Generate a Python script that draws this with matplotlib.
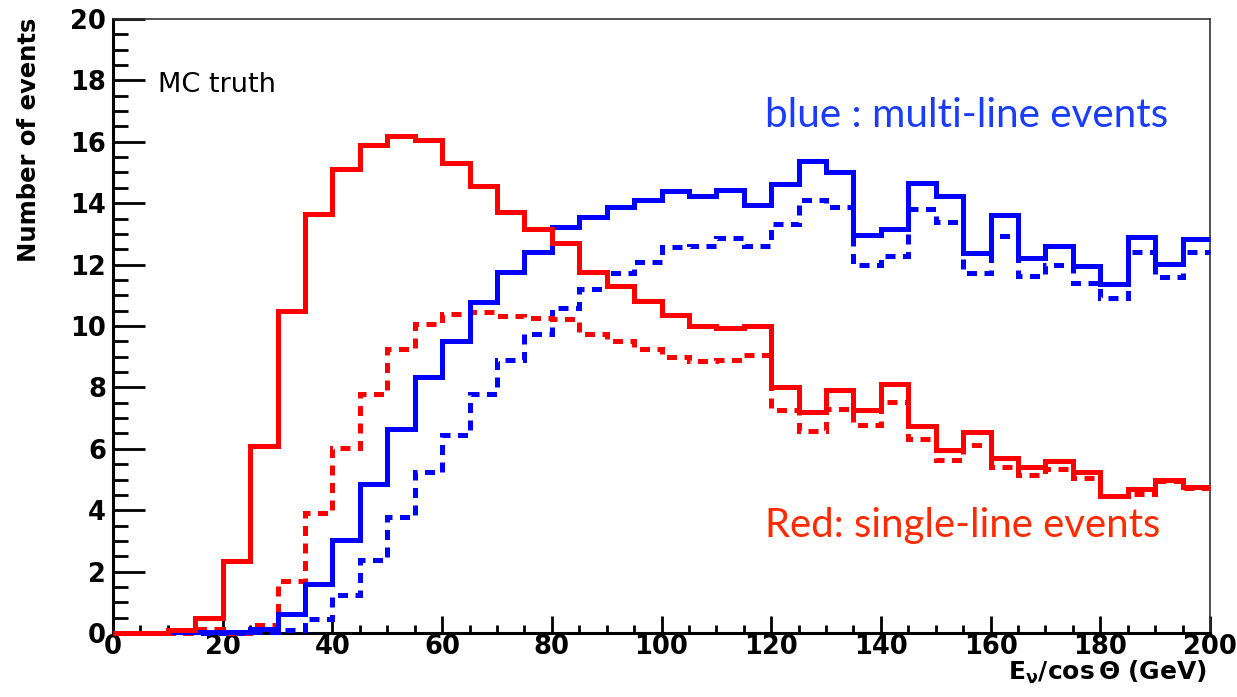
import numpy as np
import matplotlib
matplotlib.use("Agg")
from matplotlib import pyplot as plt

# bin edges: 40 bins of 5 GeV from 0 to 200
edges = np.arange(0, 205, 5)

# single-line events (red)
red_solid = [0, 0, 0.1, 0.5, 2.35, 6.1, 10.5, 13.65, 15.1, 15.9,
             16.2, 16.05, 15.3, 14.55, 13.7, 13.15, 12.7, 11.75, 11.3, 10.8,
             10.35, 10.0, 9.95, 10.0, 8.0, 7.2, 7.9, 7.25, 8.1, 6.75,
             5.95, 6.55, 5.7, 5.4, 5.6, 5.25, 4.45, 4.7, 5.0, 4.75]
red_dash = [0, 0, 0, 0.13, 0, 0.27, 1.71, 3.91, 6.03, 7.8,
            9.24, 10.08, 10.4, 10.45, 10.31, 10.25, 10.23, 9.75, 9.52, 9.24,
            9.0, 8.85, 8.88, 9.04, 7.27, 6.59, 7.3, 6.76, 7.53, 6.33,
            5.63, 6.14, 5.41, 5.16, 5.35, 5.05, 4.45, 4.53, 4.96, 4.73]

# multi-line events (blue)
blue_solid = [0, 0, 0.02, 0.02, 0.02, 0.13, 0.62, 1.58, 3.02, 4.85,
              6.65, 8.34, 9.52, 10.78, 11.77, 12.42, 13.22, 13.55, 13.89, 14.1,
              14.4, 14.25, 14.42, 13.94, 14.63, 15.38, 15.0, 12.96, 13.16, 14.67,
              14.22, 12.39, 13.63, 12.23, 12.6, 11.97, 11.38, 12.9, 12.03, 12.82]
blue_dash = [0, 0, 0, 0, 0, 0.02, 0.1, 0.45, 1.23, 2.39,
             3.77, 5.24, 6.46, 7.77, 8.88, 9.75, 10.59, 11.19, 11.72, 12.09,
             12.56, 12.59, 12.88, 12.59, 13.32, 14.11, 13.86, 12.0, 12.28, 13.8,
             13.38, 11.74, 12.94, 11.64, 12.0, 11.41, 10.9, 12.42, 11.58, 12.42]

W, H = 1237, 697
fig = plt.figure(figsize=(W / 100, H / 100), dpi=100)
ax = fig.add_axes([113 / W, 1 - 633 / H, (1210 - 113) / W, (633 - 19) / H])

lw = 3.6
dash = (0, (2.0, 1.5))
ax.stairs(blue_dash, edges, baseline=None, color='#0000ff', lw=lw, ls=dash, zorder=3, clip_on=False)
ax.stairs(red_dash, edges, baseline=None, color='#ff0000', lw=lw, ls=dash, zorder=3, clip_on=False)
ax.stairs(blue_solid, edges, baseline=None, color='#0000ff', lw=lw, zorder=4, clip_on=False)
ax.stairs(red_solid, edges, baseline=None, color='#ff0000', lw=lw, zorder=5, clip_on=False)

ax.set_xlim(0, 200)
ax.set_ylim(0, 20)
ax.set_xticks(np.arange(0, 201, 20))
ax.set_xticks(np.arange(0, 201, 5), minor=True)
ax.set_yticks(np.arange(0, 21, 2))
ax.set_yticks(np.arange(0, 20.1, 0.5), minor=True)

for s in ['left', 'bottom']:
    ax.spines[s].set_linewidth(2.2)
    ax.spines[s].set_color('black')
for s in ['top', 'right']:
    ax.spines[s].set_linewidth(1.2)
    ax.spines[s].set_color('#333333')

tickfont = {'family': 'DejaVu Sans', 'weight': 'bold', 'size': 18.5}
ax.tick_params(axis='x', which='major', direction='in', length=12.5, width=2, pad=1.0)
ax.tick_params(axis='x', which='minor', direction='in', length=6, width=2)
ax.tick_params(axis='y', which='major', direction='in', length=23, width=2, pad=5.0)
ax.tick_params(axis='y', which='minor', direction='in', length=11, width=2)
for lab in ax.get_xticklabels() + ax.get_yticklabels():
    lab.set_fontproperties(matplotlib.font_manager.FontProperties(**tickfont))

plt.rcParams['mathtext.fontset'] = 'dejavusans'
fig.text(1207 / W, 1 - 680 / H, r'$\mathbf{E_{\nu}/cos\,\Theta\ (GeV)}$',
         ha='right', va='baseline', fontsize=18, color='black')
fig.text(29 / W, 1 - 18 / H, 'Number of events', rotation=90, ha='center', va='top',
         fontsize=17.5, fontweight='bold', family='DejaVu Sans')

fig.text(158 / W, 1 - 92 / H, 'MC truth', ha='left', va='baseline', fontsize=19.5,
         family='DejaVu Sans', color='black')

t_blue = fig.text(765 / W, 1 - 127 / H, 'blue : multi-line events', ha='left', va='baseline',
                  fontsize=27, family='Lato', color='#1a3cff')
t_red = fig.text(765 / W, 1 - 537 / H, 'Red: single-line events', ha='left', va='baseline',
                 fontsize=27, family='Lato', color='#ff2a00')

# scale the two annotation texts so their width matches the original
r = fig.canvas.get_renderer()
for t, target in [(t_blue, 405), (t_red, 395)]:
    w = t.get_window_extent(r).width
    t.set_fontsize(t.get_fontsize() * target / w)

fig.savefig('out.png', dpi=100)
